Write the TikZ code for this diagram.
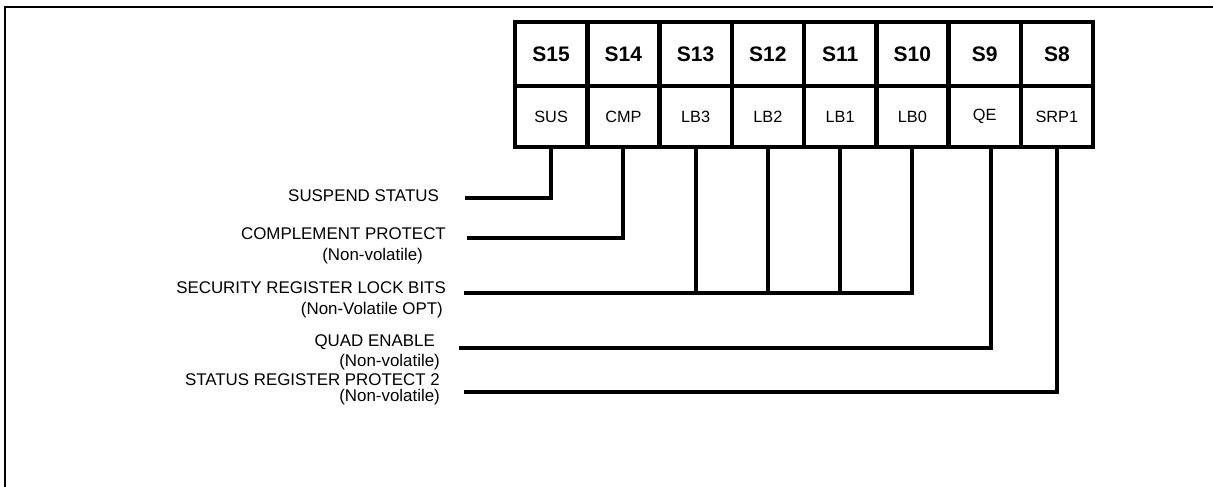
\documentclass[tikz,border=0pt]{standalone}
\usepackage{fontspec}
\setmainfont{Liberation Sans}
\begin{document}
\begin{tikzpicture}[x=1pt,y=-1pt,
  hdr/.style={draw,line width=4.5pt,inner sep=0pt,minimum width=72.25pt,minimum height=64pt,font=\fontsize{21}{22}\selectfont\bfseries},
  cel/.style={draw,line width=4.5pt,inner sep=0pt,minimum width=72.25pt,minimum height=61pt,font=\fontsize{16.3}{18}\selectfont},
  lbl/.style={anchor=east,inner sep=0pt,font=\fontsize{16.9}{18}\selectfont},
  sub/.style={anchor=east,inner sep=0pt,font=\fontsize{16.9}{18}\selectfont},
  wire/.style={line width=4pt,line cap=rect}]
\useasboundingbox (0,0) rectangle (1213,487);
\draw[line width=2pt] (5,487) -- (5,7.5) -- (1213,7.5);
% header row
\foreach \n/\t [count=\i from 0] in {h15/S15,h14/S14,h13/S13,h12/S12,h11/S11,h10/S10,h9/S9,h8/S8}
  \node[hdr] (\n) at ({515+72.25*(\i+0.5)},54) {\raisebox{-2pt}{\t}};
\foreach \n/\t [count=\i from 0] in {sus/SUS,cmp/CMP,lbiii/LB3,lbii/LB2,lbi/LB1,lbo/LB0,qe/QE,srp/SRP1}
  \node[cel] (\n) at ({515+72.25*(\i+0.5)},116.5) {\raisebox{-1.5pt}{\t}};
% labels
\node[lbl] (tsus) at (439,196) {SUSPEND STATUS};
\node[lbl] (tcmp) at (446,234) {COMPLEMENT PROTECT};
\node[sub] (tcmp2) at (423,256) {(Non-volatile)};
\node[lbl] (tsec) at (446,288) {SECURITY REGISTER LOCK BITS};
\node[sub] (tsec2) at (443,310) {(Non-Volatile OPT)};
\node[lbl] (tqe) at (435,342) {QUAD ENABLE};
\node[sub] (tqe2) at (440,362) {(Non-volatile)};
\node[lbl] (tsrp) at (440,380) {STATUS REGISTER PROTECT 2};
\node[sub] (tsrp2) at (440,397) {(Non-volatile)};
% wire ends
\coordinate (esus) at (467,198);
\coordinate (ecmp) at (469,238);
\coordinate (esec) at (466,293);
\coordinate (eqe) at (461,348);
\coordinate (esrp) at (466,392);
\coordinate (qx) at (991,149);
% connectors
\draw[wire] (sus.south) |- (esus);
\draw[wire] (cmp.south) |- (ecmp);
\draw[wire] (lbo.south) |- (esec);
\draw[wire] (lbiii.south) -- (lbiii.south |- esec);
\draw[wire] (lbii.south) -- (lbii.south |- esec);
\draw[wire] (lbi.south) -- (lbi.south |- esec);
\draw[wire] (qx) |- (eqe);
\draw[wire] (srp.south) |- (esrp);
\end{tikzpicture}
\end{document}
